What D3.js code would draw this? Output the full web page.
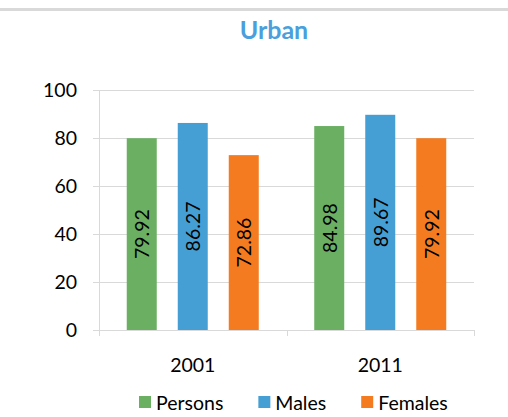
<!DOCTYPE html>
<html>
<head>
<meta charset="utf-8">
<script src="https://cdn.jsdelivr.net/npm/d3@7"></script>
<style>
  html, body { margin: 0; padding: 0; background: #fff; }
  svg { display: block; }
  text { font-family: Lato, "Open Sans", sans-serif; fill: #000; }
</style>
</head>
<body>
<svg id="chart" width="508" height="417"></svg>
<script>
const categories = ["2001", "2011"];
const seriesNames = ["Persons", "Males", "Females"];
const persons = [79.92, 84.98];
const males = [86.27, 89.67];
const females = [72.86, 79.92];
const yTicks = [0, 20, 40, 60, 80, 100];
const title = "Urban";
const colors = ["#6aaf62", "#459fd5", "#f47b20"];

const seriesValues = [persons, males, females];
const rows = categories.map((c, i) => ({
  cat: c,
  vals: seriesNames.map((s, j) => ({ key: s, value: seriesValues[j][i], color: colors[j] }))
}));

const svg = d3.select("#chart");
const pLeft = 99, pRight = 474, pTop = 90, pBottom = 330;
const fs = "19.5px";

// top frame line
svg.append("rect").attr("x", 0).attr("y", 8).attr("width", 508).attr("height", 3).attr("fill", "#d9d9d9");

// title
svg.append("text").attr("x", 274).attr("y", 29).attr("text-anchor", "middle")
  .attr("dominant-baseline", "central")
  .style("font-size", "25px").style("font-weight", "bold").style("fill", "#4a9fdc").text(title);

const y = d3.scaleLinear().domain([0, 100]).range([pBottom, pTop]);
const x0 = d3.scaleBand().domain(categories).range([pLeft, pRight]).paddingInner(0).paddingOuter(0);
const x1 = d3.scaleBand().domain(seriesNames).range([0, x0.bandwidth()]).paddingInner(0.412).paddingOuter(0.544);

// gridlines + y labels
const yAxis = d3.axisLeft(y).tickValues(yTicks).tickSize(-(pRight - pLeft + 6)).tickPadding(16).tickFormat(d3.format("d"));
const gy = svg.append("g").attr("transform", `translate(${pLeft - 6},0)`).call(yAxis);
gy.select(".domain").remove();
gy.selectAll(".tick line").attr("stroke", "#d9d9d9").attr("stroke-width", 1);
gy.selectAll(".tick text").style("font-size", fs).attr("fill", "#000");

// y axis vertical line
svg.append("line").attr("x1", pLeft + 0.5).attr("x2", pLeft + 0.5).attr("y1", pTop).attr("y2", pBottom)
  .attr("stroke", "#d9d9d9");

// bars
const groups = svg.append("g").selectAll("g").data(rows).join("g")
  .attr("transform", d => `translate(${x0(d.cat)},0)`);
groups.selectAll("rect").data(d => d.vals).join("rect")
  .attr("x", d => x1(d.key)).attr("width", x1.bandwidth())
  .attr("y", d => y(d.value)).attr("height", d => y(0) - y(d.value))
  .attr("fill", d => d.color);
groups.selectAll("text").data(d => d.vals).join("text")
  .attr("transform", d => `translate(${x1(d.key) + x1.bandwidth() / 2},${(y(d.value) + y(0)) / 2}) rotate(-90)`)
  .attr("text-anchor", "middle").attr("dominant-baseline", "central")
  .style("font-size", fs).text(d => d.value.toFixed(2));

// x axis
const xAxis = d3.axisBottom(x0).tickSize(0).tickPadding(28);
const gx = svg.append("g").attr("transform", `translate(0,${pBottom})`).call(xAxis);
gx.select(".domain").attr("stroke", "#d9d9d9").attr("d", `M${pLeft},0.5H${pRight}`);
gx.selectAll(".tick text").style("font-size", fs).attr("fill", "#000");
const bounds = categories.map(c => x0(c)).concat([x0(categories[categories.length - 1]) + x0.bandwidth()]);
gx.selectAll(".bnd").data(bounds).join("line").attr("class", "bnd")
  .attr("x1", d => Math.round(d) + 0.5).attr("x2", d => Math.round(d) + 0.5)
  .attr("y1", 0).attr("y2", 6).attr("stroke", "#d9d9d9");

// legend
const legend = svg.append("g");
let lx = 139;
seriesNames.forEach((s, i) => {
  legend.append("rect").attr("x", lx).attr("y", 396).attr("width", 12).attr("height", 12).attr("fill", colors[i]);
  const t = legend.append("text").attr("x", lx + 17).attr("y", 402).attr("dominant-baseline", "central")
    .style("font-size", fs).text(s);
  lx += 17 + t.node().getComputedTextLength() + 35;
});
</script>
</body>
</html>
